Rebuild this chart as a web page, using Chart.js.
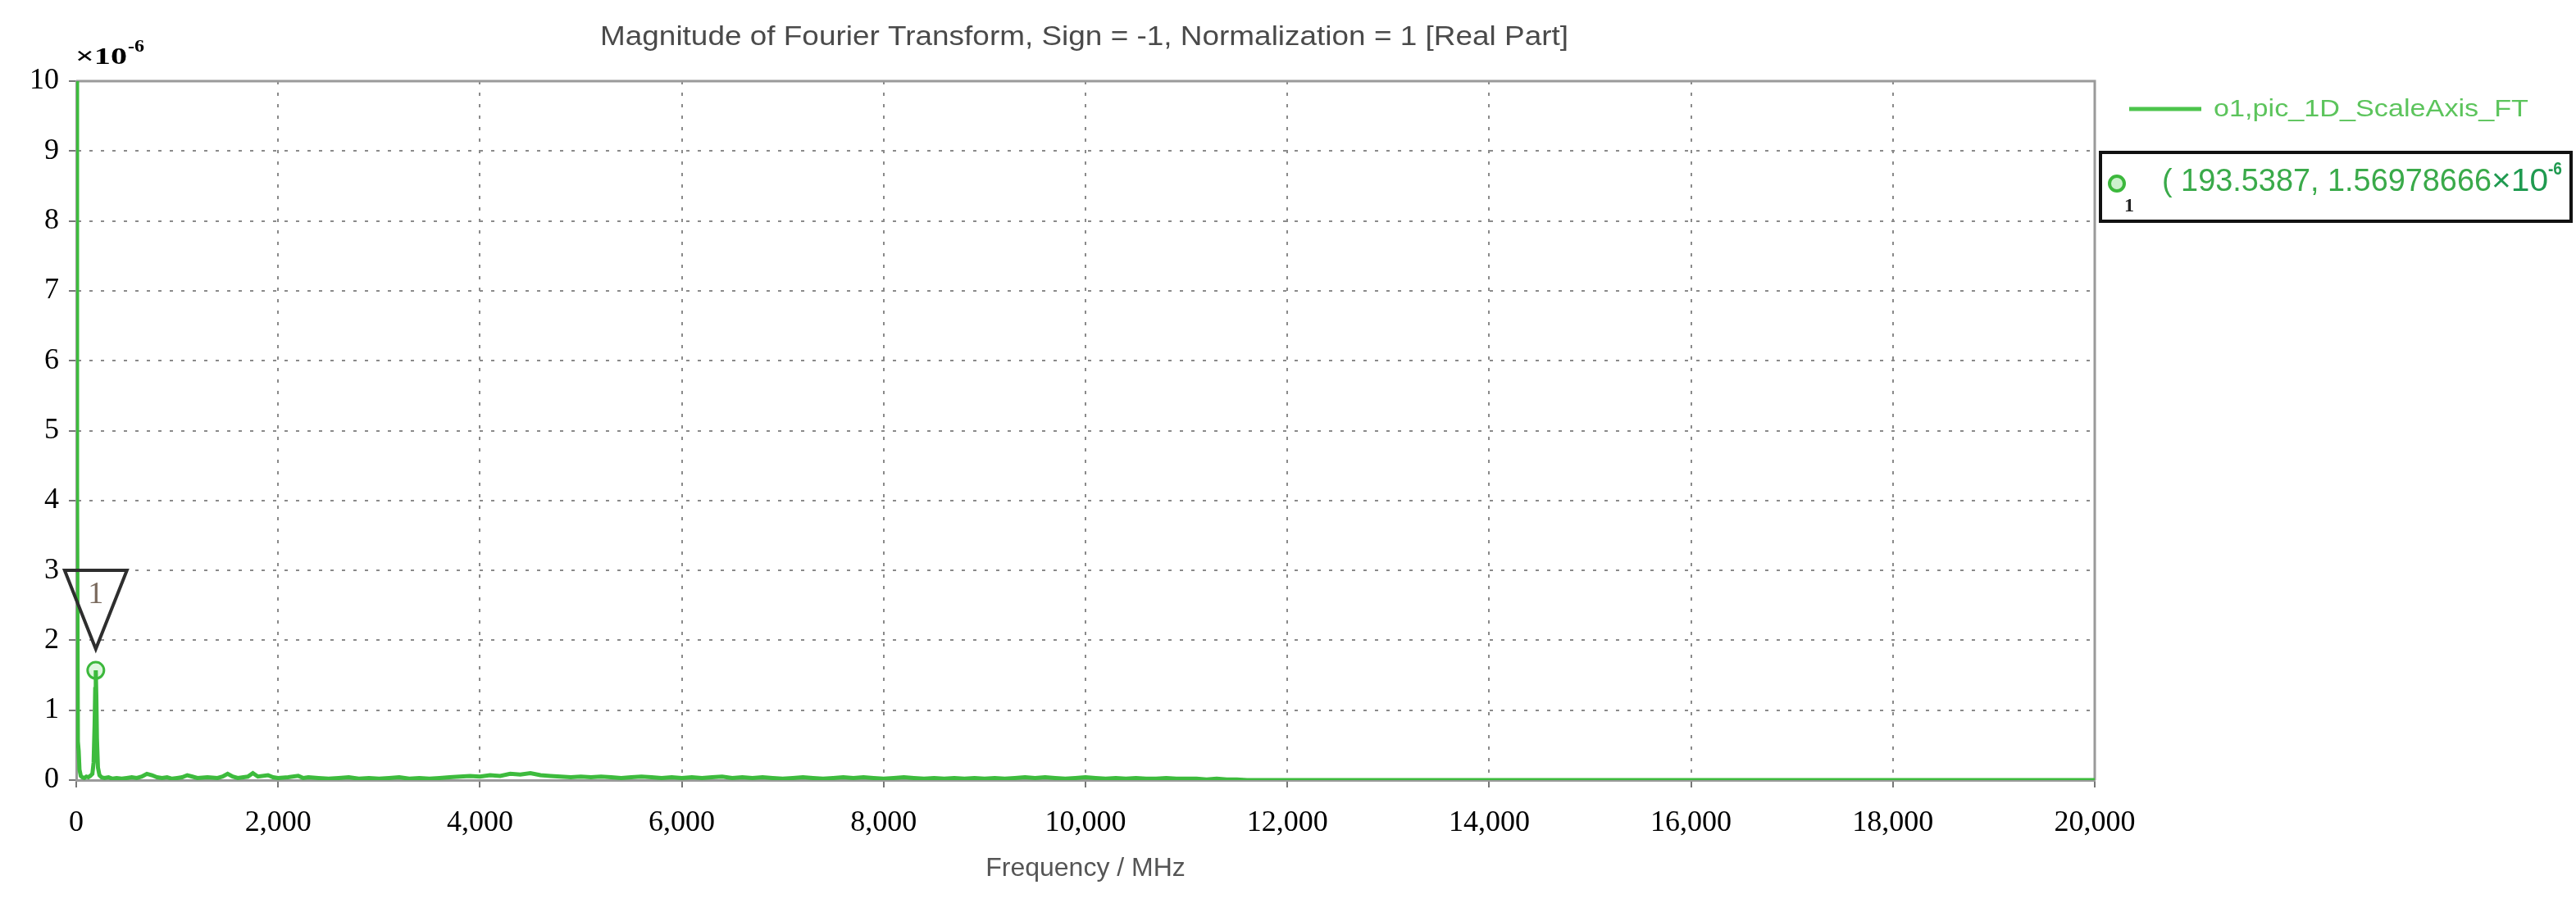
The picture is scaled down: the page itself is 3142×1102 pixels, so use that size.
<!DOCTYPE html>
<html>
<head>
<meta charset="utf-8">
<script src="https://cdn.jsdelivr.net/npm/chart.js"></script>
<style>
  html, body { margin: 0; padding: 0; background: #fff; }
</style>
</head>
<body>
<canvas id="ftChart" width="3142" height="1102"></canvas>
<script>
// frequency in MHz, magnitude in units of 1e-6
const freqMHz = [
  0, 8, 16, 24, 32, 45, 60, 80, 100, 120, 140, 160, 172, 182, 188, 193.5387, 199, 205, 215, 230, 250, 280, 320, 360, 400, 450, 500, 550, 600, 650,
  700, 750, 800, 850, 900, 950, 1000, 1050, 1100, 1150, 1200, 1300, 1400, 1450, 1500, 1550, 1600, 1700, 1750, 1800, 1900, 1950, 2000, 2100, 2200, 2250,
  2300, 2400, 2500, 2600, 2700, 2800, 2900, 3000, 3100, 3200,
  3300, 3400, 3500, 3600, 3700, 3800, 3900, 4000, 4100, 4200,
  4300, 4400, 4500, 4600, 4700, 4800, 4900, 5000, 5100, 5200,
  5300, 5400, 5500, 5600, 5700, 5800, 5900, 6000, 6100, 6200,
  6300, 6400, 6500, 6600, 6700, 6800, 6900, 7000, 7100, 7200,
  7300, 7400, 7500, 7600, 7700, 7800, 7900, 8000, 8100, 8200,
  8300, 8400, 8500, 8600, 8700, 8800, 8900, 9000, 9100, 9200,
  9300, 9400, 9500, 9600, 9700, 9800, 9900, 10000, 10100, 10200,
  10300, 10400, 10500, 10600, 10700, 10800, 10900, 11000, 11100, 11200,
  11300, 11400, 11500, 11600, 12000, 14000, 16000, 18000, 20000
];
const magnitude = [
  10.6, 4.2, 0.55, 0.42, 0.15, 0.06, 0.04, 0.03, 0.05, 0.04, 0.06, 0.09, 0.25, 0.8, 1.3, 1.56978666, 1.2, 0.6, 0.18, 0.07, 0.04, 0.03, 0.04, 0.02, 0.03, 0.02, 0.03, 0.04, 0.03, 0.05,
  0.09, 0.07, 0.04, 0.03, 0.04, 0.02, 0.03, 0.04, 0.07, 0.05, 0.03, 0.04, 0.03, 0.05, 0.09, 0.05, 0.03, 0.05, 0.10, 0.05, 0.07, 0.04, 0.03, 0.04, 0.06, 0.03,
  0.04, 0.03, 0.02, 0.03, 0.04, 0.02, 0.03, 0.02, 0.03, 0.04,
  0.02, 0.03, 0.02, 0.03, 0.04, 0.05, 0.06, 0.05, 0.07, 0.06,
  0.09, 0.08, 0.10, 0.07, 0.06, 0.05, 0.04, 0.05, 0.04, 0.05,
  0.04, 0.03, 0.04, 0.05, 0.04, 0.03, 0.04, 0.03, 0.04, 0.03,
  0.04, 0.05, 0.03, 0.04, 0.03, 0.04, 0.03, 0.02, 0.03, 0.04,
  0.03, 0.02, 0.03, 0.04, 0.03, 0.04, 0.03, 0.02, 0.03, 0.04,
  0.03, 0.02, 0.03, 0.02, 0.03, 0.02, 0.03, 0.02, 0.03, 0.02,
  0.03, 0.04, 0.03, 0.04, 0.03, 0.02, 0.03, 0.04, 0.03, 0.02,
  0.03, 0.02, 0.03, 0.02, 0.02, 0.03, 0.02, 0.02, 0.02, 0.01,
  0.02, 0.01, 0.01, 0, 0, 0, 0, 0, 0
];

const markerFreq = 193.5387;
const markerMag = 1.56978666;

const xMin = 0, xMax = 20000, xStep = 2000;
const yMin = 0, yMax = 10, yStep = 1;

const seriesName = 'o1,pic_1D_ScaleAxis_FT';
const chartTitle = 'Magnitude of Fourier Transform, Sign = -1, Normalization = 1 [Real Part]';
const xTitle = 'Frequency / MHz';

const lineGreen = '#3dbb3d';

// draw text squeezed/stretched to a given width
function fitText(ctx, text, x, y, w) {
  const m = ctx.measureText(text).width;
  ctx.save();
  ctx.translate(x, y);
  ctx.scale(w / m, 1);
  ctx.fillText(text, 0, 0);
  ctx.restore();
}

const overlay = {
  id: 'overlay',
  beforeDatasetsDraw(chart) {
    const { ctx, chartArea: a } = chart;
    ctx.save();
    ctx.strokeStyle = '#9a9a9a';
    ctx.lineWidth = 3;
    ctx.beginPath();
    ctx.moveTo(a.left, a.top);
    ctx.lineTo(a.right, a.top);
    ctx.lineTo(a.right, a.bottom);
    ctx.stroke();
    ctx.restore();
  },
  afterDraw(chart) {
    const { ctx } = chart;
    const xs = chart.scales.x, ys = chart.scales.y;
    ctx.save();
    ctx.textAlign = 'left';
    ctx.textBaseline = 'alphabetic';

    // title
    ctx.fillStyle = '#4a4a4a';
    ctx.font = '34px "Liberation Sans"';
    fitText(ctx, chartTitle, 732, 55, 1181);

    // axis multiplier
    ctx.fillStyle = '#000';
    ctx.font = 'bold 30px "Liberation Serif"';
    fitText(ctx, '\u00d710', 92, 78, 63);
    ctx.font = 'bold 21px "Liberation Serif"';
    fitText(ctx, '-6', 156, 63, 20);

    // marker triangle
    const px = xs.getPixelForValue(markerFreq);
    const tip = ys.getPixelForValue(markerMag) - 26;
    ctx.strokeStyle = '#2e2e2e';
    ctx.lineWidth = 4;
    ctx.lineJoin = 'miter';
    ctx.beginPath();
    ctx.moveTo(px, tip);
    ctx.lineTo(px - 38, tip - 96);
    ctx.lineTo(px + 38, tip - 96);
    ctx.closePath();
    ctx.stroke();
    ctx.fillStyle = '#7a6a5e';
    ctx.font = '38px "Liberation Serif"';
    ctx.textAlign = 'center';
    ctx.fillText('1', px, tip - 56);
    ctx.textAlign = 'left';

    // legend
    ctx.strokeStyle = '#4cc44c';
    ctx.lineWidth = 5;
    ctx.beginPath();
    ctx.moveTo(2597, 133);
    ctx.lineTo(2685, 133);
    ctx.stroke();
    ctx.fillStyle = '#5cc45c';
    ctx.font = '29px "Liberation Sans"';
    fitText(ctx, seriesName, 2700, 142, 384);

    // marker readout box
    ctx.strokeStyle = '#111';
    ctx.lineWidth = 4;
    ctx.strokeRect(2562, 186, 574, 84);
    ctx.strokeStyle = '#3cb83c';
    ctx.fillStyle = 'rgba(200,240,200,0.9)';
    ctx.lineWidth = 4;
    ctx.beginPath();
    ctx.arc(2582, 224, 9, 0, Math.PI * 2);
    ctx.fill();
    ctx.stroke();
    ctx.fillStyle = '#222';
    ctx.font = 'bold 24px "Liberation Serif"';
    ctx.textAlign = 'center';
    ctx.fillText('1', 2597, 258);
    ctx.textAlign = 'left';
    ctx.fillStyle = '#3aaa4a';
    ctx.font = '39px "Liberation Sans"';
    fitText(ctx, '( ' + markerFreq + ', ' + markerMag, 2637, 233, 402);
    ctx.fillStyle = '#1f9a50';
    fitText(ctx, '\u00d710', 3039, 233, 69);
    ctx.font = 'bold 22px "Liberation Sans"';
    fitText(ctx, '-6', 3108, 213, 17);
    ctx.restore();
  }
};

const gridStyle = {
  color: '#8a8a8a',
  lineWidth: 2,
  tickLength: 9,
  tickColor: '#777',
  tickWidth: 2
};

new Chart(document.getElementById('ftChart').getContext('2d'), {
  type: 'line',
  data: {
    datasets: [
      {
        label: seriesName,
        data: freqMHz.map((f, i) => ({ x: f, y: magnitude[i] })),
        borderColor: lineGreen,
        borderWidth: 5,
        pointRadius: 0,
        tension: 0,
        fill: false
      },
      {
        label: 'marker 1',
        data: [{ x: markerFreq, y: markerMag }],
        showLine: false,
        pointRadius: 10,
        pointBorderWidth: 3,
        pointBorderColor: '#3cb83c',
        pointBackgroundColor: 'rgba(220,245,220,0.9)'
      }
    ]
  },
  options: {
    responsive: false,
    animation: false,
    devicePixelRatio: 1,
    layout: { padding: { top: 99, right: 587, left: 0, bottom: 0 } },
    plugins: {
      legend: { display: false },
      title: { display: false },
      tooltip: { enabled: false }
    },
    scales: {
      x: {
        type: 'linear',
        min: xMin,
        max: xMax,
        afterFit: s => { s.height = 150; },
        ticks: {
          stepSize: xStep,
          autoSkip: false,
          maxRotation: 0,
          padding: 22,
          color: '#000',
          font: { family: 'Liberation Serif', size: 36 },
          callback: v => v.toLocaleString('en-US')
        },
        grid: gridStyle,
        border: { color: '#9a9a9a', width: 3, dash: [4, 10] },
        title: {
          display: true,
          text: xTitle,
          color: '#555',
          font: { family: 'Liberation Sans', size: 32 },
          padding: { top: 0, bottom: 23 }
        }
      },
      y: {
        min: yMin,
        max: yMax,
        afterFit: s => { s.width = 93; },
        ticks: {
          stepSize: yStep,
          padding: 12,
          color: '#000',
          font: { family: 'Liberation Serif', size: 36 }
        },
        grid: gridStyle,
        border: { color: '#9a9a9a', width: 3, dash: [4, 10] }
      }
    }
  },
  plugins: [overlay]
});
</script>
</body>
</html>
